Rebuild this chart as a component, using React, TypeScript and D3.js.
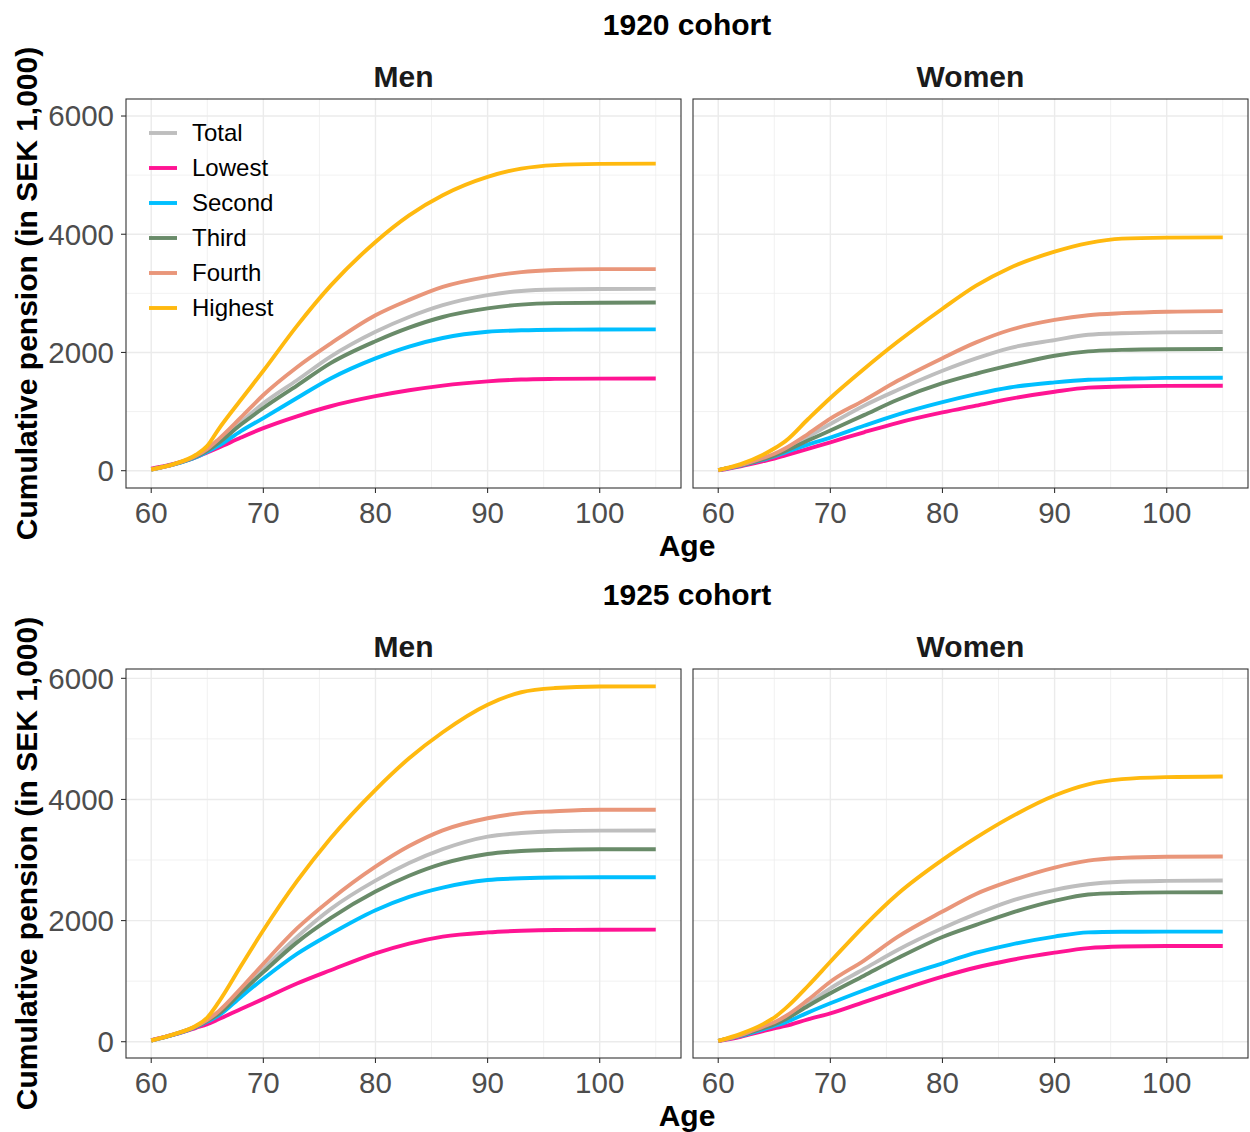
import React from "react";
import * as d3 from "d3";

// Ages at which the cumulative pension is recorded
const AGES = [60, 62, 64, 65, 66, 68, 70, 73, 76, 80, 83, 86, 90, 93, 96, 100, 105];

const GROUPS = ["Total", "Lowest", "Second", "Third", "Fourth", "Highest"];
const GROUP_COLORS = ["#BEBEBE", "#FF1493", "#00BFFF", "#698B69", "#E9967A", "#FFB90F"];

const X_TICKS = [60, 70, 80, 90, 100];
const X_MINOR = [65, 75, 85, 95, 105];
const Y_TICKS = [0, 2000, 4000, 6000];
const Y_MINOR = [1000, 3000, 5000];

// Cumulative pension (SEK 1,000) by income group
const MEN_1920: Record<string, number[]> = {
  Total:   [20, 105, 240, 350, 490, 820, 1140, 1530, 1930, 2350, 2600, 2800, 2970, 3040, 3065, 3073, 3075],
  Lowest:  [35, 115, 230, 310, 390, 560, 720, 920, 1090, 1260, 1360, 1440, 1510, 1542, 1553, 1558, 1560],
  Second:  [20, 105, 230, 320, 420, 670, 890, 1230, 1560, 1900, 2100, 2245, 2350, 2375, 2385, 2388, 2390],
  Third:   [20, 105, 240, 340, 470, 780, 1060, 1440, 1820, 2190, 2420, 2600, 2745, 2810, 2835, 2842, 2845],
  Fourth:  [20, 105, 250, 370, 530, 900, 1280, 1750, 2150, 2630, 2890, 3110, 3280, 3360, 3395, 3410, 3410],
  Highest: [20, 110, 270, 420, 700, 1200, 1690, 2450, 3130, 3870, 4320, 4660, 4970, 5110, 5170, 5190, 5195],
};

const WOMEN_1920: Record<string, number[]> = {
  Total:   [10, 90, 200, 265, 350, 570, 790, 1100, 1365, 1690, 1900, 2075, 2210, 2300, 2325, 2340, 2346],
  Lowest:  [5, 75, 160, 205, 260, 370, 480, 650, 810, 985, 1100, 1215, 1336, 1405, 1423, 1435, 1438],
  Second:  [10, 85, 185, 240, 310, 440, 560, 760, 950, 1160, 1295, 1408, 1494, 1538, 1553, 1570, 1573],
  Third:   [10, 90, 195, 255, 335, 510, 680, 940, 1200, 1480, 1640, 1780, 1945, 2018, 2043, 2055, 2058],
  Fourth:  [10, 95, 215, 285, 380, 620, 880, 1190, 1520, 1904, 2170, 2380, 2550, 2630, 2665, 2690, 2700],
  Highest: [10, 110, 270, 375, 500, 870, 1230, 1720, 2180, 2740, 3130, 3430, 3705, 3850, 3925, 3942, 3947],
};

const MEN_1925: Record<string, number[]> = {
  Total:   [20, 120, 250, 350, 480, 850, 1204, 1730, 2190, 2660, 2950, 3180, 3387, 3445, 3475, 3486, 3488],
  Lowest:  [25, 115, 230, 290, 370, 540, 707, 960, 1180, 1459, 1620, 1735, 1805, 1832, 1845, 1848, 1850],
  Second:  [20, 115, 245, 335, 430, 740, 1039, 1450, 1780, 2171, 2392, 2545, 2669, 2698, 2712, 2715, 2716],
  Third:   [20, 118, 248, 345, 460, 810, 1149, 1640, 2040, 2480, 2740, 2940, 3100, 3150, 3168, 3177, 3179],
  Fourth:  [20, 120, 255, 360, 500, 880, 1287, 1870, 2345, 2890, 3230, 3490, 3690, 3775, 3805, 3829, 3830],
  Highest: [20, 120, 265, 400, 650, 1250, 1840, 2650, 3360, 4160, 4680, 5110, 5564, 5770, 5840, 5865, 5867],
};

const WOMEN_1925: Record<string, number[]> = {
  Total:   [15, 105, 230, 295, 385, 630, 882, 1200, 1515, 1873, 2110, 2318, 2507, 2600, 2640, 2655, 2661],
  Lowest:  [10, 80, 175, 220, 260, 370, 468, 655, 840, 1074, 1225, 1345, 1470, 1545, 1572, 1580, 1581],
  Second:  [15, 95, 205, 260, 320, 480, 634, 850, 1055, 1295, 1470, 1600, 1736, 1805, 1815, 1818, 1818],
  Third:   [15, 105, 225, 285, 370, 590, 800, 1090, 1380, 1730, 1930, 2120, 2325, 2430, 2455, 2465, 2468],
  Fourth:  [15, 110, 250, 320, 420, 690, 990, 1340, 1730, 2149, 2440, 2650, 2876, 2990, 3035, 3055, 3058],
  Highest: [15, 130, 290, 400, 550, 920, 1320, 1910, 2440, 3003, 3370, 3700, 4066, 4250, 4335, 4369, 4380],
};

const COHORTS = [
  { title: "1920 cohort", offset: 0, yDomain: [-293, 6288], panels: [
    { label: "Men", data: MEN_1920 }, { label: "Women", data: WOMEN_1920 } ] },
  { title: "1925 cohort", offset: 570, yDomain: [-269, 6154], panels: [
    { label: "Men", data: MEN_1925 }, { label: "Women", data: WOMEN_1925 } ] },
];

const FONT = "'Liberation Sans', Arial, Helvetica, sans-serif";
const PANEL_X = [126, 693];
const PANEL_W = 555;
const PANEL_TOP = 99;
const PANEL_H = 389;
const LINE_W = 3.9;

function Panel({ x0, y0, yDomain, label, data, legend }: any) {
  const x = d3.scaleLinear().domain([57.75, 107.25]).range([x0, x0 + PANEL_W]);
  const y = d3.scaleLinear().domain(yDomain).range([y0 + PANEL_H, y0]);
  const line = d3.line<[number, number]>()
    .x((d) => x(d[0]))
    .y((d) => y(d[1]))
    .curve(d3.curveMonotoneX);
  const clipId = `clip-${x0}-${y0}`;
  return (
    <g>
      <defs>
        <clipPath id={clipId}>
          <rect x={x0} y={y0} width={PANEL_W} height={PANEL_H} />
        </clipPath>
      </defs>
      <rect x={x0} y={y0} width={PANEL_W} height={PANEL_H} fill="#fff" />
      {X_MINOR.map((t) => (
        <line key={"xm" + t} x1={x(t)} x2={x(t)} y1={y0} y2={y0 + PANEL_H} stroke="#EBEBEB" strokeWidth={0.7} />
      ))}
      {Y_MINOR.map((t) => (
        <line key={"ym" + t} x1={x0} x2={x0 + PANEL_W} y1={y(t)} y2={y(t)} stroke="#EBEBEB" strokeWidth={0.7} />
      ))}
      {X_TICKS.map((t) => (
        <line key={"xg" + t} x1={x(t)} x2={x(t)} y1={y0} y2={y0 + PANEL_H} stroke="#EBEBEB" strokeWidth={1.4} />
      ))}
      {Y_TICKS.map((t) => (
        <line key={"yg" + t} x1={x0} x2={x0 + PANEL_W} y1={y(t)} y2={y(t)} stroke="#EBEBEB" strokeWidth={1.4} />
      ))}
      <g clipPath={`url(#${clipId})`}>
        {GROUPS.map((g, i) => (
          <path
            key={g}
            d={line(AGES.map((a, k) => [a, data[g][k]] as [number, number])) || ""}
            fill="none"
            stroke={GROUP_COLORS[i]}
            strokeWidth={LINE_W}
            strokeLinejoin="round"
            strokeLinecap="butt"
          />
        ))}
      </g>
      <rect x={x0} y={y0} width={PANEL_W} height={PANEL_H} fill="none" stroke="#333333" strokeWidth={1.1} />
      {/* x axis ticks and labels */}
      {X_TICKS.map((t) => (
        <g key={"xt" + t}>
          <line x1={x(t)} x2={x(t)} y1={y0 + PANEL_H} y2={y0 + PANEL_H + 5} stroke="#333333" strokeWidth={1.1} />
          <text x={x(t)} y={y0 + PANEL_H + 35} textAnchor="middle" fontFamily={FONT} fontSize={29.5} fill="#4D4D4D">
            {t}
          </text>
        </g>
      ))}
      {/* strip label */}
      <text x={x0 + PANEL_W / 2} y={y0 - 12} textAnchor="middle" fontFamily={FONT} fontSize={30} fontWeight="bold" fill="#1A1A1A">
        {label}
      </text>
      {legend && (
        <g>
          {GROUPS.map((g, i) => (
            <g key={"lg" + g}>
              <line x1={x0 + 23} x2={x0 + 51} y1={y0 + 34 + i * 35} y2={y0 + 34 + i * 35} stroke={GROUP_COLORS[i]} strokeWidth={LINE_W} />
              <text x={x0 + 66} y={y0 + 34 + i * 35} dy="0.35em" fontFamily={FONT} fontSize={24} fill="#000">
                {g}
              </text>
            </g>
          ))}
        </g>
      )}
    </g>
  );
}

export default function App() {
  return (
    <svg
      width={1250}
      height={1132}
      viewBox="0 0 1250 1132"
      style={{ position: "absolute", left: 0, top: 0, background: "#fff" }}
    >
      <rect width={1250} height={1132} fill="#fff" />
      {COHORTS.map((c) => {
        const y0 = c.offset + PANEL_TOP;
        const yScale = d3.scaleLinear().domain(c.yDomain).range([y0 + PANEL_H, y0]);
        return (
          <g key={c.title}>
            <text x={687} y={c.offset + 35} textAnchor="middle" fontFamily={FONT} fontSize={30} fontWeight="bold" fill="#000">
              {c.title}
            </text>
            {c.panels.map((p, i) => (
              <Panel key={p.label} x0={PANEL_X[i]} y0={y0} yDomain={c.yDomain} label={p.label} data={p.data} legend={c.offset === 0 && i === 0} />
            ))}
            {/* y axis ticks and labels (left panel only) */}
            {Y_TICKS.map((t) => (
              <g key={"yt" + t}>
                <line x1={PANEL_X[0] - 5} x2={PANEL_X[0]} y1={yScale(t)} y2={yScale(t)} stroke="#333333" strokeWidth={1.1} />
                <text x={PANEL_X[0] - 12} y={yScale(t)} dy="0.35em" textAnchor="end" fontFamily={FONT} fontSize={29.5} fill="#4D4D4D">
                  {t}
                </text>
              </g>
            ))}
            <text x={687} y={c.offset + 556} textAnchor="middle" fontFamily={FONT} fontSize={30} fontWeight="bold" fill="#000">
              Age
            </text>
            <text
              transform={`translate(37, ${y0 + PANEL_H / 2}) rotate(-90)`}
              textAnchor="middle"
              fontFamily={FONT}
              fontSize={30}
              fontWeight="bold"
              fill="#000"
            >
              Cumulative pension (in SEK 1,000)
            </text>
          </g>
        );
      })}
    </svg>
  );
}
